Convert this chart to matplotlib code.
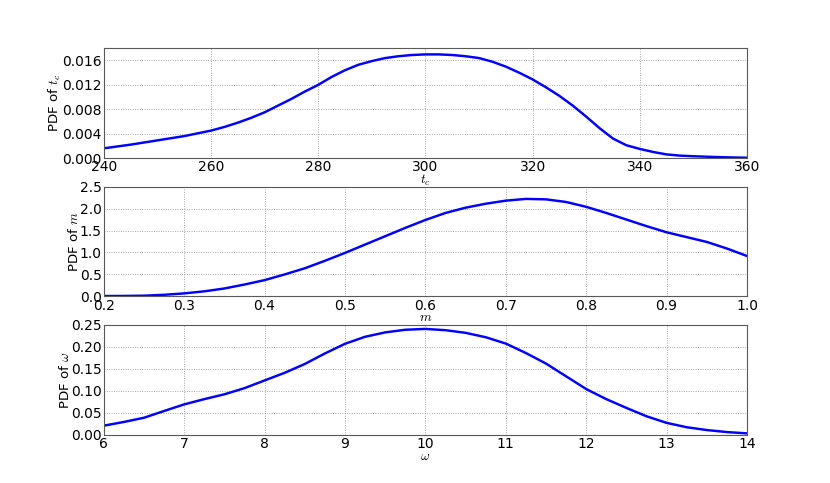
import matplotlib
matplotlib.use('Agg')
import matplotlib.pyplot as plt

# ===================== 数据=====================
tc = [240, 245, 250, 255, 260, 262.5, 265, 267.5, 270, 272.5, 275, 277.5, 280,
      282.5, 285, 287.5, 290, 292.5, 295, 297.5, 300, 302.5, 305, 307.5, 310,
      312.5, 315, 317.5, 320, 322.5, 325, 327.5, 330, 332.5, 335, 337.5, 340,
      342.5, 345, 347.5, 350, 355, 360]
pdf_tc = [0.0016, 0.0022, 0.0029, 0.0036, 0.0045, 0.0051, 0.0058, 0.0066, 0.0075,
          0.0086, 0.0097, 0.0109, 0.0120, 0.0133, 0.0144, 0.0153, 0.0159, 0.0164,
          0.0167, 0.0169, 0.0170, 0.0170, 0.0169, 0.0167, 0.0164, 0.0158, 0.0150,
          0.0140, 0.0129, 0.0116, 0.0102, 0.0086, 0.0068, 0.0049, 0.0032, 0.0021,
          0.0015, 0.0010, 0.0006, 0.0004, 0.0003, 0.00015, 0.00005]

m = [0.200, 0.225, 0.250, 0.275, 0.300, 0.325, 0.350, 0.375, 0.400, 0.425,
     0.450, 0.475, 0.500, 0.525, 0.550, 0.575, 0.600, 0.625, 0.650, 0.675,
     0.700, 0.725, 0.750, 0.775, 0.800, 0.825, 0.850, 0.875, 0.900, 0.925,
     0.950, 0.975, 1.000]
pdf_m = [0.008, 0.010, 0.016, 0.036, 0.068, 0.115, 0.18, 0.27, 0.37, 0.50,
         0.64, 0.81, 0.99, 1.18, 1.37, 1.56, 1.74, 1.90, 2.02, 2.11,
         2.18, 2.22, 2.21, 2.15, 2.04, 1.90, 1.75, 1.60, 1.46, 1.35,
         1.24, 1.09, 0.92]

omega = [6.0, 6.25, 6.5, 6.75, 7.0, 7.25, 7.5, 7.75, 8.0, 8.25, 8.5, 8.75,
         9.0, 9.25, 9.5, 9.75, 10.0, 10.25, 10.5, 10.75, 11.0, 11.25, 11.5,
         11.75, 12.0, 12.25, 12.5, 12.75, 13.0, 13.25, 13.5, 13.75, 14.0]
pdf_omega = [0.0205, 0.029, 0.0386, 0.054, 0.069, 0.081, 0.092, 0.106, 0.1235,
             0.141, 0.161, 0.185, 0.207, 0.223, 0.233, 0.239, 0.2409, 0.238,
             0.232, 0.222, 0.2076, 0.186, 0.162, 0.133, 0.104, 0.081, 0.061,
             0.042, 0.027, 0.017, 0.0106, 0.006, 0.003]

yticks_tc = [0.000, 0.004, 0.008, 0.012, 0.016]
yticks_m = [0.0, 0.5, 1.0, 1.5, 2.0, 2.5]
yticks_omega = [0.00, 0.05, 0.10, 0.15, 0.20, 0.25]

panels = [
    (tc, pdf_tc, r'$t_c$', (240, 360), (0, 0.018), yticks_tc, '%.3f'),
    (m, pdf_m, r'$m$', (0.2, 1.0), (0, 2.5), yticks_m, '%.1f'),
    (omega, pdf_omega, r'$\omega$', (6, 14), (0, 0.25), yticks_omega, '%.2f'),
]

plt.rcParams['font.family'] = ['DejaVu Sans']
plt.rcParams['font.size'] = 12
plt.rcParams['mathtext.fontset'] = 'cm'

fig, axes = plt.subplots(3, 1, figsize=(10.375, 6.0375), dpi=80)
fig.subplots_adjust(left=0.125, right=0.9, top=0.9, bottom=0.1, hspace=0.26)

for ax, (x, y, name, xl, yl, yt, fmt) in zip(axes, panels):
    ax.plot(x, y, color='#0000ff', lw=2.2)
    ax.set_xlim(*xl)
    ax.set_ylim(*yl)
    ax.set_yticks(yt)
    ax.set_yticklabels([fmt % v for v in yt])
    ax.set_xlabel(name, labelpad=-1)
    ax.set_ylabel('PDF of ' + name, labelpad=-1)
    ax.grid(True, color='0.6', linestyle=':', lw=0.8)
    ax.tick_params(length=0, pad=2, labelsize=12.5)
    for s in ax.spines.values():
        s.set_color('0.35')
        s.set_linewidth(1.0)

plt.savefig('out.png', dpi=80)
